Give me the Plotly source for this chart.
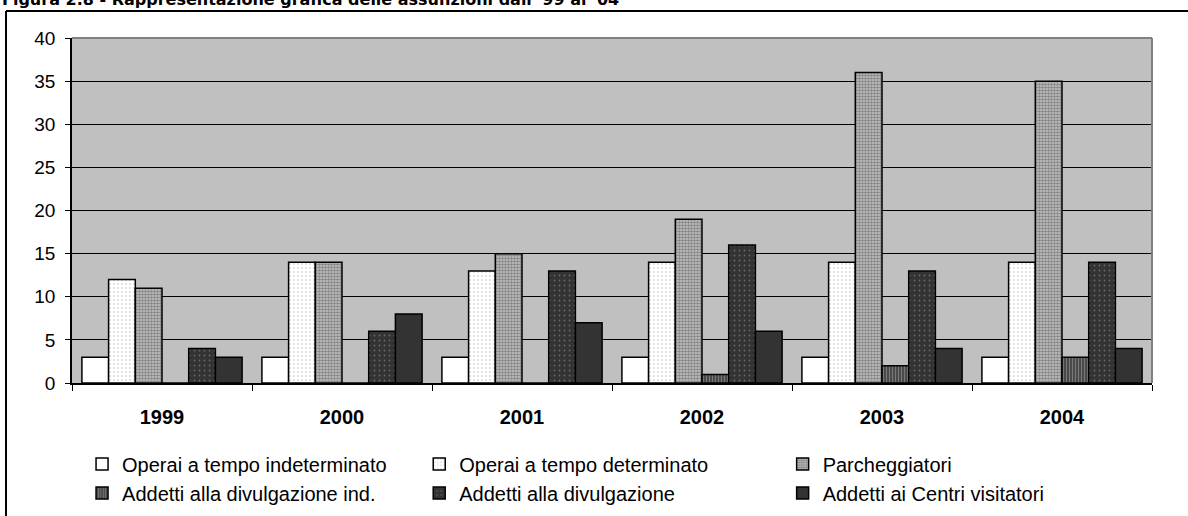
import plotly.graph_objects as go

years = ["1999", "2000", "2001", "2002", "2003", "2004"]

operai_indeterminato = [3, 3, 3, 3, 3, 3]
operai_determinato = [12, 14, 13, 14, 14, 14]
parcheggiatori = [11, 14, 15, 19, 36, 35]
divulgazione_ind = [0, 0, 0, 1, 2, 3]
divulgazione = [4, 6, 13, 16, 13, 14]
centri_visitatori = [3, 8, 7, 6, 4, 4]

series = [
    ("Operai a tempo indeterminato", operai_indeterminato,
     dict(shape="", bgcolor="white", fgcolor="white"), "legend"),
    ("Addetti alla divulgazione ind.", divulgazione_ind,
     dict(shape="|", bgcolor="#4a4a4a", fgcolor="#b0b0b0", size=3, solidity=0.3), "legend"),
    ("Operai a tempo determinato", operai_determinato,
     dict(shape=".", bgcolor="white", fgcolor="#707070", size=4, solidity=0.12), "legend2"),
    ("Addetti alla divulgazione", divulgazione,
     dict(shape=".", bgcolor="#333333", fgcolor="#a0a0a0", size=5, solidity=0.1), "legend2"),
    ("Parcheggiatori", parcheggiatori,
     dict(shape=".", bgcolor="#c8c8c8", fgcolor="#404040", size=3, solidity=0.6), "legend3"),
    ("Addetti ai Centri visitatori", centri_visitatori,
     dict(shape="", bgcolor="#333333", fgcolor="#333333"), "legend3"),
]
# draw order inside each year group
order = [0, 2, 4, 1, 3, 5]

fig = go.Figure()
for i in order:
    name, values, pattern, leg = series[i]
    fig.add_trace(go.Bar(
        name=name, x=years, y=values, legend=leg,
        marker=dict(color=pattern["bgcolor"], pattern=pattern,
                    line=dict(color="black", width=1.5)),
    ))

label_font = dict(family="Liberation Sans, Arial, sans-serif", size=20, color="black")
legend_common = dict(orientation="v", font=label_font, bgcolor="rgba(0,0,0,0)",
                     yanchor="top", y=-0.178, xanchor="left", tracegroupgap=0)

fig.update_layout(
    width=1188, height=516,
    margin=dict(l=72, r=36, t=38, b=133, autoexpand=False),
    paper_bgcolor="white",
    plot_bgcolor="#c0c0c0",
    barmode="group",
    bargap=0.11,
    bargroupgap=0,
    font=label_font,
    legend=dict(x=0.0093, **legend_common),
    legend2=dict(x=0.3215, **legend_common),
    legend3=dict(x=0.658, **legend_common),
    xaxis=dict(
        type="category", tickson="boundaries", ticks="outside", ticklen=6,
        tickcolor="black", showline=True, linecolor="black", linewidth=1.5,
        tickfont=dict(family="Liberation Sans, Arial, sans-serif", size=20,
                      color="black", weight="bold"),
        ticklabelstandoff=15,
    ),
    yaxis=dict(
        range=[0, 40], dtick=5, ticks="outside", ticklen=5, tickcolor="black",
        showline=True, linecolor="black", linewidth=1.5,
        showgrid=True, gridcolor="black", gridwidth=1, zeroline=False,
        ticklabelstandoff=6, tickfont=dict(size=19),
    ),
    shapes=[
        # plot area border (top / right)
        dict(type="line", xref="paper", yref="paper", x0=0, x1=1, y0=1, y1=1,
             line=dict(color="#808080", width=2), layer="above"),
        dict(type="line", xref="paper", yref="paper", x0=1, x1=1, y0=0, y1=1,
             line=dict(color="#808080", width=2), layer="above"),
        # outer chart frame
        dict(type="line", xref="paper", yref="paper", x0=-0.0611, x1=1.04,
             y0=1.0783, y1=1.0783, line=dict(color="black", width=2)),
        dict(type="line", xref="paper", yref="paper", x0=-0.0611, x1=-0.0611,
             y0=1.0783, y1=-0.40, line=dict(color="black", width=2)),
    ],
    annotations=[
        dict(text="Figura 2.8 - Rappresentazione grafica delle assunzioni dall '99 al '04",
             xref="paper", yref="paper", x=-0.0667, y=1.112,
             xanchor="left", yanchor="middle", showarrow=False,
             font=dict(family="DejaVu Sans, Verdana, sans-serif", size=16,
                       color="black", weight="bold")),
    ],
)

# drop the page's default body margin so the figure sits at the window corner
fig.write_html("out.html", config={"displayModeBar": False},
               post_script="document.body.style.margin='0px';")
